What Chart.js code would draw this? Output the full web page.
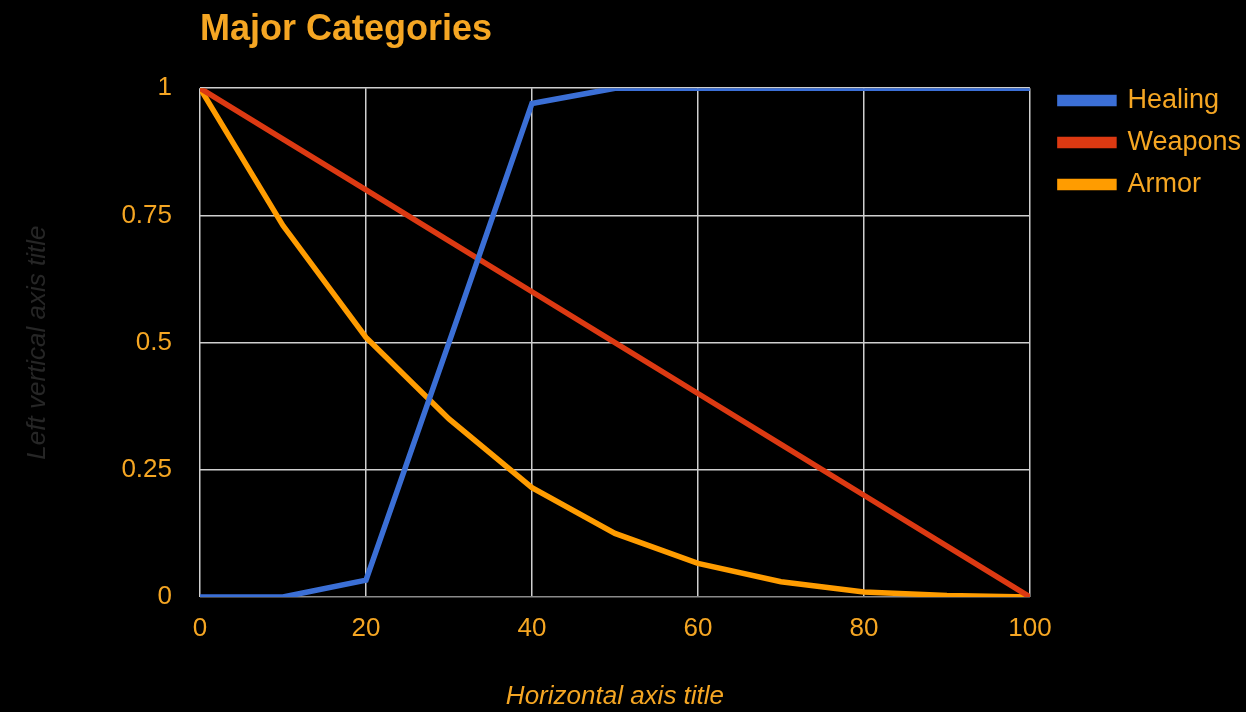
<!DOCTYPE html>
<html>
<head>
<meta charset="utf-8">
<script src="https://cdn.jsdelivr.net/npm/chart.js@4"></script>
<style>
  html, body { margin: 0; padding: 0; background: #000; }
  #wrap { width: 1246px; height: 712px; }
</style>
</head>
<body>
<div id="wrap"><canvas id="majorChart" width="1246" height="712"></canvas></div>
<script>
const xValues = [0, 10, 20, 30, 40, 50, 60, 70, 80, 90, 100];
const healing = [0, 0, 0.033, 0.5, 0.97, 1, 1, 1, 1, 1, 1];
const weapons = [1, 0.9, 0.8, 0.7, 0.6, 0.5, 0.4, 0.3, 0.2, 0.1, 0];
const armor = [1, 0.73, 0.51, 0.35, 0.215, 0.125, 0.066, 0.03, 0.01, 0.003, 0];
const yTickStep = 0.25;
const xTickStep = 20;

const orange = '#f5a623';
const fontName = '"Liberation Sans", Arial, sans-serif';

function toPoints(arr) {
    return arr.map((v, i) => ({ x: xValues[i], y: v }));
}

function lineSet(label, data, color) {
    return {
        label: label,
        data: toPoints(data),
        borderColor: color,
        backgroundColor: color,
        borderWidth: 5.5,
        pointRadius: 0,
        tension: 0
    };
}

const ctx = document.getElementById('majorChart').getContext('2d');
const majorChart = new Chart(ctx, {
    type: 'line',
    data: {
        datasets: [
            lineSet('Healing', healing, '#3b6fd6'),
            lineSet('Weapons', weapons, '#dc3912'),
            lineSet('Armor', armor, '#ff9c00')
        ]
    },
    options: {
        responsive: false,
        animation: false,
        layout: { padding: { left: 0, right: -5, top: 0, bottom: 0 } },
        scales: {
            x: {
                type: 'linear',
                min: 0,
                max: 100,
                ticks: { stepSize: xTickStep, color: orange, padding: 16, font: { family: fontName, size: 26 } },
                grid: {
                    drawTicks: false,
                    color: '#cfcfcf',
                    lineWidth: 1.5
                },
                border: { display: false },
                title: {
                    display: true,
                    text: 'Horizontal axis title',
                    color: orange,
                    font: { family: fontName, size: 26, style: 'italic' },
                    padding: { top: 30, bottom: 0 }
                },
                afterFit: function(scale) { scale.height = 115; }
            },
            y: {
                min: 0,
                max: 1,
                ticks: {
                    stepSize: yTickStep,
                    color: orange,
                    padding: 28,
                    font: { family: fontName, size: 26 },
                    callback: v => String(v)
                },
                grid: {
                    drawTicks: false,
                    color: c => c.tick && c.tick.value === 0 ? '#8a8a8a' : '#cfcfcf',
                    lineWidth: 1.5
                },
                border: { display: false },
                title: {
                    display: true,
                    text: 'Left vertical axis title',
                    color: '#262626',
                    font: { family: fontName, size: 26, style: 'italic' },
                    padding: { top: 22, bottom: 0 }
                },
                afterFit: function(scale) { scale.width = 200; }
            },
            // empty spacer between plot and legend
            gap: {
                position: 'right',
                min: 0,
                max: 1,
                grid: { display: false },
                ticks: { display: false },
                border: { display: false },
                afterFit: function(scale) { scale.width = 15; }
            }
        },
        plugins: {
            title: {
                display: true,
                text: 'Major Categories',
                align: 'start',
                fullSize: false,
                color: orange,
                font: { family: fontName, size: 36, weight: 'bold' },
                padding: { top: 8, bottom: 37 }
            },
            legend: {
                position: 'right',
                align: 'start',
                title: {
                    display: true,
                    text: '',
                    font: { size: 10 },
                    padding: { top: 60, bottom: 0 }
                },
                labels: {
                    color: orange,
                    boxWidth: 54,
                    boxHeight: 6,
                    padding: 15,
                    font: { family: fontName, size: 27 }
                }
            },
            tooltip: { enabled: false }
        }
    }
});
</script>
</body>
</html>
